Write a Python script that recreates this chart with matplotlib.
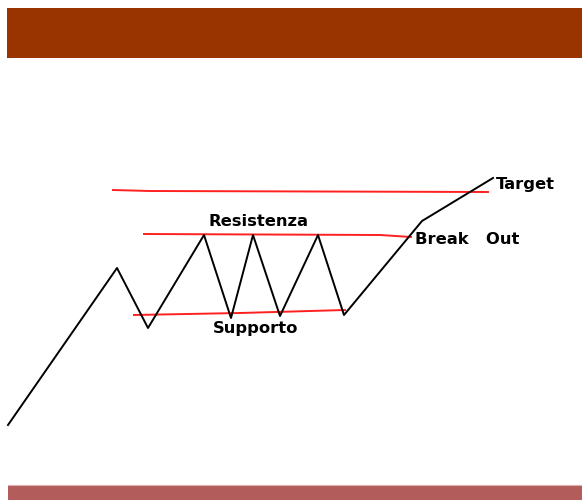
import matplotlib
matplotlib.use("Agg")
import matplotlib.pyplot as plt
from matplotlib.patches import Rectangle

# Price path (x position, price level; price measured upward from bottom)
path_x = [8, 117, 148, 204, 231, 253, 280, 318, 344, 422, 493]
path_y = [75, 232, 172, 265, 182, 265, 184, 265, 185, 279, 322]

# Horizontal levels: (x points, price points)
target_x = [113, 150, 488]
target_y = [310, 309, 308]
resist_x = [144, 380, 411]
resist_y = [266, 265, 263]
support_x = [134, 240, 345]
support_y = [185, 187, 190]

labels = ["Resistenza", "Supporto", "Break   Out", "Target"]
label_x = [259, 256, 415, 496]
label_y = [278, 172, 260, 315]

fig = plt.figure(figsize=(5.82, 5.00), dpi=100)
ax = fig.add_axes([0, 0, 1, 1])
ax.set_xlim(0, 582)
ax.set_ylim(0, 500)
ax.axis("off")

# header and footer bands
ax.add_patch(Rectangle((7, 442), 575, 50, facecolor="#993300", edgecolor="none"))
ax.add_patch(Rectangle((8, 0), 574, 15, facecolor="#B35C5C", edgecolor="none"))
ax.plot([8, 582], [15.3, 15.3], color="#E0B0B0", lw=0.8)

red = "#FF2020"
ax.plot(target_x, target_y, color=red, lw=1.4)
ax.plot(resist_x, resist_y, color=red, lw=1.4)
ax.plot(support_x, support_y, color=red, lw=1.4)

ax.plot(path_x, path_y, color="black", lw=1.4)

ha = ["center", "center", "left", "left"]
for t, x, y, h in zip(labels, label_x, label_y, ha):
    ax.text(x, y, t, ha=h, va="center", fontsize=11.8, fontweight="bold",
            family="DejaVu Sans", color="black")

fig.savefig("out.png", dpi=100)
